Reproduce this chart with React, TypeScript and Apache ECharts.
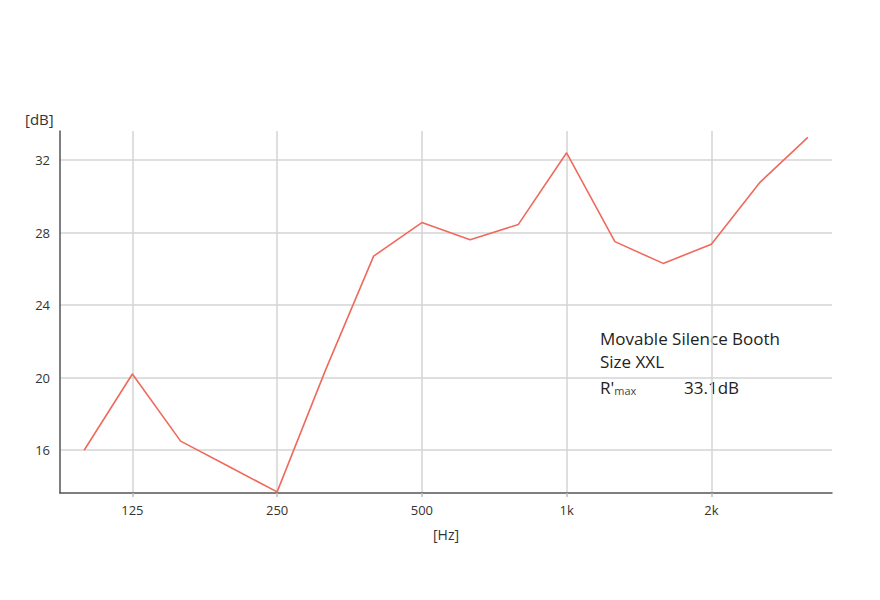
import React, { useEffect, useRef } from "react";
import * as echarts from "echarts";

const frequencies = ["100", "125", "160", "200", "250", "315", "400", "500", "630", "800", "1k", "1.25k", "1.6k", "2k", "2.5k", "3.15k"];
const soundReduction = [16.0, 20.2, 16.5, 15.1, 13.7, 20.4, 26.7, 28.55, 27.6, 28.45, 32.4, 27.5, 26.3, 27.35, 30.75, 33.25];
const xTickIndices = [1, 4, 7, 10, 13];
const yTicks = [16, 20, 24, 28, 32];

const FONT = "'Open Sans', 'Noto Sans', sans-serif";

export default function App() {
  const ref = useRef<HTMLDivElement>(null);
  useEffect(() => {
    if (!ref.current) return;
    const chart = echarts.init(ref.current, null, { renderer: "svg" });
    chart.setOption({
      animation: false,
      backgroundColor: "#ffffff",
      grid: { left: 60, right: 48, top: 131, bottom: 107 },
      xAxis: {
        type: "value",
        min: -0.5,
        max: frequencies.length - 0.5,
        name: "[Hz]",
        nameLocation: "middle",
        nameGap: 34,
        nameTextStyle: { color: "#333", fontSize: 14, fontFamily: FONT },
        axisLine: { show: true, onZero: false, lineStyle: { color: "#555", width: 1.5 } },
        axisTick: { show: true, length: 4, customValues: xTickIndices, lineStyle: { color: "#bbb", width: 1.5 } },
        axisLabel: {
          customValues: xTickIndices,
          color: "#333",
          fontSize: 13,
          fontFamily: FONT,
          margin: 10,
          formatter: (v: number) => frequencies[Math.round(v)] ?? "",
        },
        splitLine: { show: true, lineStyle: { color: "#d4d4d4", width: 1.5 } },
      },
      yAxis: {
        type: "value",
        min: 13.64,
        max: 33.6,
        axisLine: { show: true, onZero: false, lineStyle: { color: "#555", width: 1.5 } },
        axisTick: { show: false, customValues: yTicks },
        axisLabel: {
          customValues: yTicks,
          color: "#333",
          fontSize: 13,
          fontFamily: FONT,
          margin: 10,
        },
        splitLine: { show: true, lineStyle: { color: "#d4d4d4", width: 1.5 } },
      },
      graphic: [
        {
          type: "text",
          left: 25,
          top: 111,
          style: { text: "[dB]", fill: "#333", fontSize: 15, fontFamily: FONT },
        },
        {
          type: "text",
          left: 600,
          top: 330,
          style: { text: "Movable Silence Booth", fill: "#222", fontSize: 17, fontFamily: FONT },
        },
        {
          type: "text",
          left: 600,
          top: 353,
          style: { text: "Size XXL", fill: "#222", fontSize: 17, fontFamily: FONT },
        },
        {
          type: "text",
          left: 600,
          top: 379,
          style: {
            text: "{r|R'}{m|max}",
            rich: {
              r: { fill: "#222", fontSize: 17, fontFamily: FONT },
              m: { fill: "#444", fontSize: 11, fontFamily: FONT, padding: [6, 0, 0, 0] },
            },
          },
        },
        {
          type: "text",
          left: 684,
          top: 379,
          style: { text: "33.1dB", fill: "#222", fontSize: 17, fontFamily: FONT },
        },
      ],
      series: [
        {
          type: "line",
          data: soundReduction.map((v, i) => [i, v]),
          showSymbol: false,
          symbol: "none",
          lineStyle: { color: "#ef6a5c", width: 1.6 },
          itemStyle: { color: "#ef6a5c" },
        },
      ],
    });
    return () => chart.dispose();
  }, []);
  return <div ref={ref} style={{ width: 880, height: 600, position: "absolute", left: 0, top: 0 }} />;
}
